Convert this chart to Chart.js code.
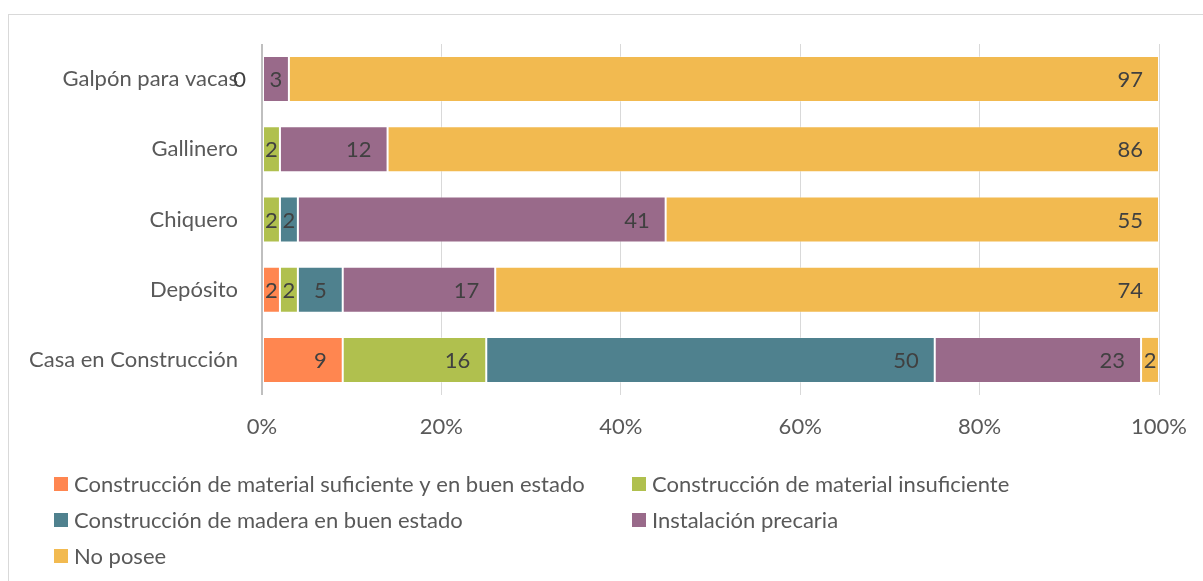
<!DOCTYPE html>
<html>
<head>
<meta charset="utf-8">
<script src="https://cdn.jsdelivr.net/npm/chart.js@4/dist/chart.umd.min.js"></script>
<style>
  html, body { margin: 0; padding: 0; background: #fff; }
  #wrap { position: relative; width: 1203px; height: 581px; overflow: hidden; }
  #frame { position: absolute; left: 8px; top: 14px; width: 1300px; height: 700px;
           border-left: 1.5px solid #d9d9d9; border-top: 1.5px solid #d9d9d9; }
  canvas { position: absolute; left: 0; top: 0; }
</style>
</head>
<body>
<div id="wrap">
  <div id="frame"></div>
  <canvas id="chart" width="1203" height="581"></canvas>
</div>
<script>
// categorias (de arriba hacia abajo)
const categories = ['Galpón para vacas', 'Gallinero', 'Chiquero', 'Depósito', 'Casa en Construcción'];

// porcentajes por tipo de construcción
const suficiente   = [0, null, null, 2, 9];
const insuficiente = [null, 2, 2, 2, 16];
const madera       = [null, null, 2, 5, 50];
const precaria     = [3, 12, 41, 17, 23];
const noPosee      = [97, 86, 55, 74, 2];

const seriesNames = [
  'Construcción de material suficiente y en buen estado',
  'Construcción de material insuficiente',
  'Construcción de madera en buen estado',
  'Instalación precaria',
  'No posee'
];
const seriesColors = ['#ff8650', '#b0c04e', '#4f818e', '#996a8a', '#f2ba50'];
const xTicks = [0, 20, 40, 60, 80, 100];

const FONT = '22px Lato, "Open Sans", sans-serif';
Chart.defaults.font.family = 'Lato, "Open Sans", sans-serif';
Chart.defaults.font.size = 22;
Chart.defaults.color = '#595959';

// etiquetas de valor, al final de cada segmento
const valueLabels = {
  id: 'valueLabels',
  afterDraw(chart) {
    const ctx = chart.ctx;
    ctx.save();
    ctx.font = FONT;
    ctx.fillStyle = '#404040';
    ctx.textBaseline = 'middle';
    ctx.textAlign = 'center';
    chart.data.datasets.forEach((ds, di) => {
      const meta = chart.getDatasetMeta(di);
      meta.data.forEach((bar, i) => {
        const v = ds.data[i];
        if (v === null || v === undefined) return;
        const txt = String(v);
        const w = ctx.measureText(txt).width;
        const start = Math.min(bar.base, bar.x), end = Math.max(bar.base, bar.x);
        let cx;
        if (end - start >= w + 32 || end - start === 0) cx = end - 16 - w / 2;
        else cx = (start + end) / 2;
        ctx.fillText(txt, cx, bar.y + 1);
      });
    });
    ctx.restore();
  }
};

// leyenda en dos columnas
const legendCols = [54, 632];
const legendRows = [484, 520, 556];
const gridLegend = {
  id: 'gridLegend',
  afterDraw(chart) {
    const ctx = chart.ctx;
    ctx.save();
    ctx.font = FONT;
    ctx.textBaseline = 'middle';
    ctx.textAlign = 'left';
    chart.data.datasets.forEach((ds, i) => {
      const x = legendCols[i % 2];
      const y = legendRows[Math.floor(i / 2)];
      ctx.fillStyle = ds.backgroundColor;
      ctx.fillRect(x, y - 7, 14, 14);
      ctx.fillStyle = '#595959';
      ctx.fillText(ds.label, x + 20, y + 1);
    });
    ctx.restore();
  }
};

const allData = [suficiente, insuficiente, madera, precaria, noPosee];

new Chart(document.getElementById('chart'), {
  type: 'bar',
  data: {
    labels: categories,
    datasets: allData.map((d, i) => ({
      label: seriesNames[i],
      data: d,
      backgroundColor: seriesColors[i],
      borderColor: 'rgba(255,255,255,0.25)',
      borderWidth: 1,
      borderSkipped: false,
      categoryPercentage: 1,
      barPercentage: 0.655
    }))
  },
  options: {
    indexAxis: 'y',
    responsive: false,
    animation: false,
    layout: { padding: { left: 0, top: 44, right: 44, bottom: 0 } },
    plugins: { legend: { display: false }, tooltip: { enabled: false } },
    scales: {
      x: {
        stacked: true,
        min: 0,
        max: 100,
        z: 1,
        afterBuildTicks: s => { s.ticks = xTicks.map(v => ({ value: v })); },
        afterFit: s => { s.height = 186; s.paddingLeft = 0; s.paddingRight = 0; },
        ticks: { padding: 19, callback: v => v + '%' },
        grid: {
          drawTicks: false,
          color: c => c.tick && c.tick.value === 0 ? 'rgba(0,0,0,0.25)' : 'rgba(0,0,0,0.15)',
          lineWidth: c => c.tick && c.tick.value === 0 ? 2 : 1
        },
        border: { display: false }
      },
      y: {
        stacked: true,
        afterFit: s => { s.width = 262; },
        ticks: { padding: 24, color: '#595959' },
        grid: { display: false, drawTicks: false },
        border: { display: false }
      }
    }
  },
  plugins: [valueLabels, gridLegend]
});
</script>
</body>
</html>
